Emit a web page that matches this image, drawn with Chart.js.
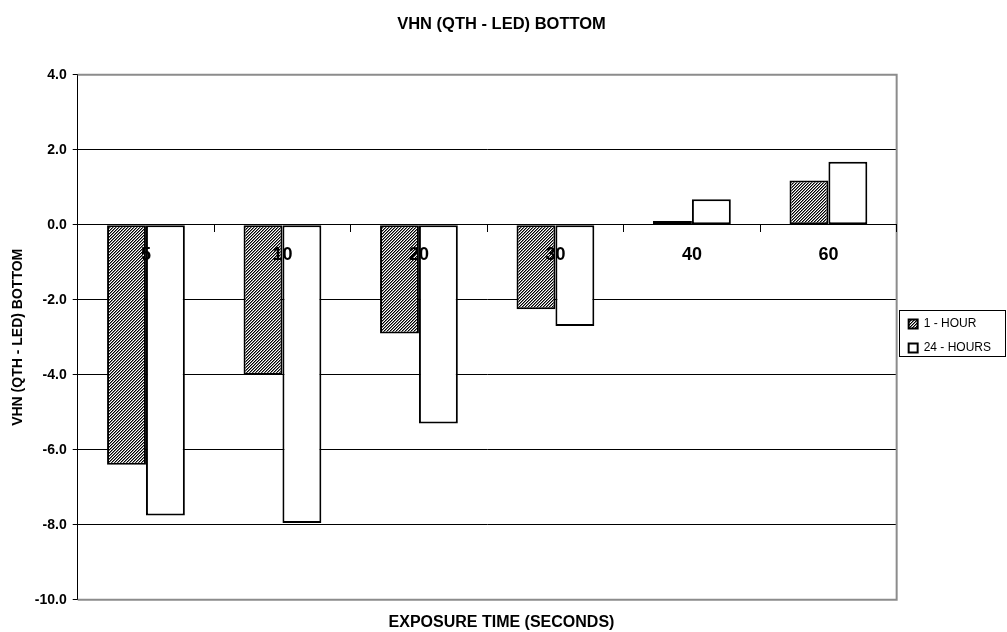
<!DOCTYPE html>
<html>
<head>
<meta charset="utf-8">
<script src="https://cdn.jsdelivr.net/npm/chart.js@4.4.1/dist/chart.umd.min.js"></script>
<style>
  html, body { margin: 0; padding: 0; background: #ffffff; }
  #wrap { width: 1007px; height: 632px; }
</style>
</head>
<body>
<div id="wrap"><canvas id="chart"></canvas></div>
<script>
// Exposure times (seconds) and VHN differences (QTH - LED), bottom surface
const categories = ['5', '10', '20', '30', '40', '60'];
const oneHour = [-6.4, -4.0, -2.9, -2.25, 0.1, 1.18];
const twentyFourHours = [-7.75, -7.95, -5.3, -2.7, 0.68, 1.68];
const seriesNames = ['1 - HOUR', '24 - HOURS'];

// Value axis range and tick step
const yMin = -10;
const yMax = 4;
const yStep = 2;

const FONT = "'Liberation Sans', Arial, Helvetica, sans-serif";

// Fine diagonal hatch used for the 1-hour bars
function makeHatch() {
  const c = document.createElement('canvas');
  c.width = 3;
  c.height = 3;
  const g = c.getContext('2d');
  const shades = ['#000000', '#7a7a7a', '#ffffff'];
  for (let x = 0; x < 3; x++) {
    for (let y = 0; y < 3; y++) {
      g.fillStyle = shades[(x + y) % 3];
      g.fillRect(x, y, 1, 1);
    }
  }
  return g.createPattern(c, 'repeat');
}

// Grey frame on the top, right and bottom of the plot area
const plotFrame = {
  id: 'plotFrame',
  afterDatasetsDraw(chart) {
    const { ctx, chartArea: a } = chart;
    ctx.save();
    ctx.strokeStyle = '#8c8c8c';
    ctx.lineWidth = 2;
    ctx.beginPath();
    ctx.moveTo(a.left, a.top);
    ctx.lineTo(a.right, a.top);
    ctx.lineTo(a.right, a.bottom);
    ctx.lineTo(a.left, a.bottom);
    ctx.stroke();
    ctx.restore();
  }
};

// Thin black box around the legend entries
const legendBox = {
  id: 'legendBox',
  afterDraw(chart) {
    const lg = chart.legend;
    if (!lg || !lg.legendHitBoxes || !lg.legendHitBoxes.length) return;
    const hb = lg.legendHitBoxes;
    const last = hb[hb.length - 1];
    const top = Math.round(hb[0].top - 8) + 0.5;
    const bottom = Math.round(last.top + last.height + 2) + 0.5;
    const left = Math.round(lg.left + 2) + 0.5;
    const right = chart.width - 1.5;
    const ctx = chart.ctx;
    ctx.save();
    ctx.strokeStyle = '#000000';
    ctx.lineWidth = 1;
    ctx.strokeRect(left, top, right - left, bottom - top);
    ctx.restore();
  }
};

new Chart(document.getElementById('chart'), {
  type: 'bar',
  data: {
    labels: categories,
    datasets: [
      {
        label: seriesNames[0],
        data: oneHour,
        backgroundColor: makeHatch(),
        borderColor: '#000000',
        borderWidth: 2,
        borderSkipped: false
      },
      {
        label: seriesNames[1],
        data: twentyFourHours,
        backgroundColor: '#ffffff',
        borderColor: '#000000',
        borderWidth: 2,
        borderSkipped: false
      }
    ]
  },
  options: {
    responsive: true,
    maintainAspectRatio: false,
    animation: false,
    datasets: {
      bar: { categoryPercentage: 0.57, barPercentage: 1.0 }
    },
    layout: { padding: { left: 2, right: 6, top: 0, bottom: 0 } },
    plugins: {
      title: {
        display: true,
        text: 'VHN (QTH - LED) BOTTOM',
        color: '#000000',
        font: { family: FONT, size: 16.5, weight: 'bold' },
        padding: { top: 15, bottom: 40 }
      },
      subtitle: {
        display: true,
        position: 'bottom',
        text: 'EXPOSURE TIME (SECONDS)',
        color: '#000000',
        font: { family: FONT, size: 16, weight: 'bold' },
        padding: { top: 13, bottom: 0 }
      },
      legend: {
        position: 'right',
        title: {
          display: true,
          text: ' ',
          font: { family: FONT, size: 12 },
          padding: { top: 0, bottom: 25.6 }
        },
        labels: {
          boxWidth: 9,
          boxHeight: 9,
          padding: 12,
          color: '#000000',
          font: { family: FONT, size: 12 }
        }
      },
      tooltip: { enabled: false }
    },
    scales: {
      x: {
        position: { y: 0 },
        grid: {
          z: 1,
          drawOnChartArea: false,
          drawTicks: true,
          tickLength: 7,
          color: '#000000',
          offset: true
        },
        border: { z: 1, color: '#000000', width: 1 },
        ticks: {
          z: 1,
          color: '#000000',
          padding: 12,
          maxRotation: 0,
          font: { family: FONT, size: 18, weight: 'bold' }
        }
      },
      y: {
        min: yMin,
        max: yMax,
        ticks: {
          stepSize: yStep,
          padding: 6,
          color: '#000000',
          font: { family: FONT, size: 14, weight: 'bold' },
          callback: (v) => Number(v).toFixed(1)
        },
        grid: {
          color: (ctx) => (ctx.tick && (ctx.tick.value === yMax || ctx.tick.value === yMin)) ? '#8c8c8c' : '#000000',
          tickColor: '#000000',
          tickLength: 5
        },
        border: { color: '#000000', width: 1 },
        title: {
          display: true,
          text: 'VHN (QTH - LED) BOTTOM',
          color: '#000000',
          font: { family: FONT, size: 14, weight: 'bold' },
          padding: { top: 8, bottom: 2 }
        }
      }
    }
  },
  plugins: [plotFrame, legendBox]
});
</script>
</body>
</html>
